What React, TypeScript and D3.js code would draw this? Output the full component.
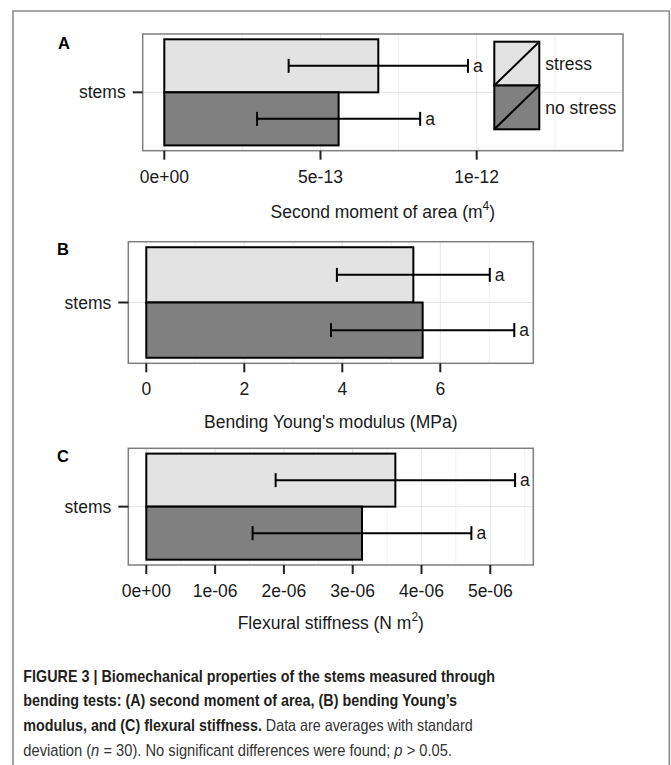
import React, { useLayoutEffect, useRef, useState } from "react";
import * as d3 from "d3";

const W = 671;
const H = 765;

const categories = ["stems"];
const groups = ["stress", "no stress"];
const groupFills = ["#e3e3e3", "#808080"];

const momentMean = [6.85e-13, 5.58e-13];
const momentSD = [2.87e-13, 2.61e-13];
const modulusMean = [5.45, 5.64];
const modulusSD = [1.56, 1.87];
const stiffnessMean = [3.62e-6, 3.135e-6];
const stiffnessSD = [1.74e-6, 1.59e-6];
const letters = ["a", "a"];

const momentTicks = [0, 5e-13, 1e-12];
const momentTickLabels = ["0e+00", "5e-13", "1e-12"];
const momentMinor = [2.5e-13, 7.5e-13, 1.25e-12];
const modulusTicks = [0, 2, 4, 6];
const modulusTickLabels = ["0", "2", "4", "6"];
const modulusMinor = [1, 3, 5, 7];
const stiffnessTicks = [0, 1e-6, 2e-6, 3e-6, 4e-6, 5e-6];
const stiffnessTickLabels = ["0e+00", "1e-06", "2e-06", "3e-06", "4e-06", "5e-06"];
const stiffnessMinor = [0.5e-6, 1.5e-6, 2.5e-6, 3.5e-6, 4.5e-6, 5.5e-6];

const FONT = "'Liberation Sans', Arial, Helvetica, sans-serif";
const TXT = "#1a1a1a";

type PanelProps = {
  label: string;
  labelX: number;
  labelY: number;
  left: number;
  right: number;
  top: number;
  bottom: number;
  domain: [number, number];
  means: number[];
  sds: number[];
  ticks: number[];
  tickLabels: string[];
  minor: number[];
  title: string;
  sup?: string;
  titleY: number;
  legend?: boolean;
};

function Panel(p: PanelProps) {
  const x = d3.scaleLinear().domain(p.domain).range([p.left, p.right]);
  const h = p.bottom - p.top;
  const pad = (0.05 / 1.1) * h;
  const y = d3
    .scaleBand<string>()
    .domain(groups)
    .range([p.top + pad, p.bottom - pad])
    .padding(0);
  const catY = d3
    .scalePoint<string>()
    .domain(categories)
    .range([p.top, p.bottom])
    .padding(0.5);
  const cx = (p.left + p.right) / 2;
  const capH = 7;
  return (
    <g>
      <text x={p.labelX} y={p.labelY} fontFamily={FONT} fontWeight="bold" fontSize={16.5} fill="#000">
        {p.label}
      </text>
      <rect x={p.left} y={p.top} width={p.right - p.left} height={h} fill="#fff" />
      {p.minor.map((v, i) => (
        <line key={"mi" + i} x1={x(v)} x2={x(v)} y1={p.top} y2={p.bottom} stroke="#f2f2f2" strokeWidth={1} />
      ))}
      {p.ticks.map((v, i) => (
        <line key={"ma" + i} x1={x(v)} x2={x(v)} y1={p.top} y2={p.bottom} stroke="#e6e6e6" strokeWidth={1} />
      ))}
      {categories.map((c) => (
        <line key={"hy" + c} x1={p.left} x2={p.right} y1={catY(c)} y2={catY(c)} stroke="#e6e6e6" strokeWidth={1} />
      ))}
      {groups.map((g, i) => (
        <rect
          key={"bar" + g}
          x={x(0)}
          y={y(g)!}
          width={x(p.means[i]) - x(0)}
          height={y.bandwidth()}
          fill={groupFills[i]}
          stroke="#000"
          strokeWidth={2}
        />
      ))}
      {groups.map((g, i) => {
        const yc = y(g)! + y.bandwidth() / 2;
        const x1 = x(p.means[i] - p.sds[i]);
        const x2 = x(p.means[i] + p.sds[i]);
        return (
          <g key={"eb" + g} stroke="#000" strokeWidth={2}>
            <line x1={x1} x2={x2} y1={yc} y2={yc} />
            <line x1={x1} x2={x1} y1={yc - capH} y2={yc + capH} />
            <line x1={x2} x2={x2} y1={yc - capH} y2={yc + capH} />
            <text
              x={x2 + 5}
              y={yc}
              dy="0.35em"
              stroke="none"
              fill={TXT}
              fontFamily={FONT}
              fontSize={17.5}
            >
              {letters[i]}
            </text>
          </g>
        );
      })}
      {p.legend &&
        groups.map((g, i) => {
          const kx = 494.3;
          const ky = 41.7 + i * 43.8;
          const kw = 45;
          const kh = 43.8;
          return (
            <g key={"lg" + g}>
              <rect x={kx} y={ky} width={kw} height={kh} fill={groupFills[i]} stroke="#000" strokeWidth={2} />
              <line x1={kx} y1={ky + kh} x2={kx + kw} y2={ky} stroke="#000" strokeWidth={2} />
              <text x={kx + kw + 6} y={ky + kh / 2} dy="0.35em" fill={TXT} fontFamily={FONT} fontSize={17.5}>
                {g}
              </text>
            </g>
          );
        })}
      <rect
        x={p.left}
        y={p.top}
        width={p.right - p.left}
        height={h}
        fill="none"
        stroke="#7f7f7f"
        strokeWidth={1.5}
      />
      {categories.map((c) => (
        <g key={"yt" + c}>
          <line x1={p.left - 10} x2={p.left} y1={catY(c)} y2={catY(c)} stroke="#222" strokeWidth={2} />
          <text
            x={p.left - 17}
            y={catY(c)}
            dy="0.35em"
            textAnchor="end"
            fill={TXT}
            fontFamily={FONT}
            fontSize={17.5}
          >
            {c}
          </text>
        </g>
      ))}
      {p.ticks.map((v, i) => (
        <g key={"xt" + i}>
          <line x1={x(v)} x2={x(v)} y1={p.bottom} y2={p.bottom + 9} stroke="#222" strokeWidth={2} />
          <text x={x(v)} y={p.bottom + 32} textAnchor="middle" fill={TXT} fontFamily={FONT} fontSize={17.5}>
            {p.tickLabels[i]}
          </text>
        </g>
      ))}
      <text x={cx} y={p.titleY} textAnchor="middle" fill={TXT} fontFamily={FONT} fontSize={17.5}>
        {p.title}
        {p.sup ? (
          <>
            <tspan fontSize={12} dy={-8}>
              {p.sup}
            </tspan>
            <tspan dy={8}>)</tspan>
          </>
        ) : null}
      </text>
    </g>
  );
}

const CAP = "'Liberation Sans Narrow', 'Liberation Sans', Arial, sans-serif";
const CAPC = "#231f20";
const capX = 23.3;
const capBaselines = [682, 706, 731, 756];
const capWidths = [471.7, 433.4, 449.4, 428.4];

export default function App() {
  const refs = useRef<(SVGTextElement | null)[]>([]);
  const [scales, setScales] = useState<number[]>([1, 1, 1, 1]);

  useLayoutEffect(() => {
    const s = refs.current.map((el, i) => {
      if (!el) return 1;
      const w = el.getBBox().width;
      return w > 0 ? capWidths[i] / w : 1;
    });
    setScales(s);
  }, []);

  const tf = (i: number) => `translate(${capX},${capBaselines[i]}) scale(${scales[i]},1)`;

  return (
    <svg
      width={W}
      height={H}
      viewBox={`0 0 ${W} ${H}`}
      style={{ position: "absolute", left: 0, top: 0, background: "#fff" }}
    >
      <rect x={0} y={0} width={W} height={H} fill="#fff" />
      <path d={`M13,${H} V11 H669.3 V${H}`} fill="none" stroke="#8c8c8c" strokeWidth={1.6} />

      <Panel
        label="A"
        labelX={58}
        labelY={48.5}
        left={142.7}
        right={623}
        top={34}
        bottom={150.7}
        domain={[-6.914e-14, 1.4683e-12]}
        means={momentMean}
        sds={momentSD}
        ticks={momentTicks}
        tickLabels={momentTickLabels}
        minor={momentMinor}
        title="Second moment of area (m"
        sup="4"
        titleY={217.5}
        legend
      />
      <Panel
        label="B"
        labelX={57}
        labelY={255}
        left={128.3}
        right={533.3}
        top={241.7}
        bottom={363.3}
        domain={[-0.367, 7.898]}
        means={modulusMean}
        sds={modulusSD}
        ticks={modulusTicks}
        tickLabels={modulusTickLabels}
        minor={modulusMinor}
        title="Bending Young's modulus (MPa)"
        titleY={428}
        legend={false}
      />
      <Panel
        label="C"
        labelX={57}
        labelY={462}
        left={128.3}
        right={533.3}
        top={448.3}
        bottom={565}
        domain={[-2.616e-7, 5.625e-6]}
        means={stiffnessMean}
        sds={stiffnessSD}
        ticks={stiffnessTicks}
        tickLabels={stiffnessTickLabels}
        minor={stiffnessMinor}
        title="Flexural stiffness (N m"
        sup="2"
        titleY={629}
        legend={false}
      />

      <g fontFamily={CAP} fontSize={16.3} fill={CAPC}>
        <text ref={(el) => { refs.current[0] = el; }} x={0} y={0} transform={tf(0)} fontWeight="bold">
          FIGURE 3 | Biomechanical properties of the stems measured through
        </text>
        <text ref={(el) => { refs.current[1] = el; }} x={0} y={0} transform={tf(1)} fontWeight="bold">
          bending tests: (A) second moment of area, (B) bending Young’s
        </text>
        <text ref={(el) => { refs.current[2] = el; }} x={0} y={0} transform={tf(2)}>
          <tspan fontWeight="bold">modulus, and (C) flexural stiffness.</tspan>
          <tspan fill="#333"> Data are averages with standard</tspan>
        </text>
        <text ref={(el) => { refs.current[3] = el; }} x={0} y={0} transform={tf(3)} fill="#333">
          deviation (<tspan fontStyle="italic">n</tspan> = 30). No significant differences were found;{" "}
          <tspan fontStyle="italic">p</tspan> &gt; 0.05.
        </text>
      </g>
    </svg>
  );
}
